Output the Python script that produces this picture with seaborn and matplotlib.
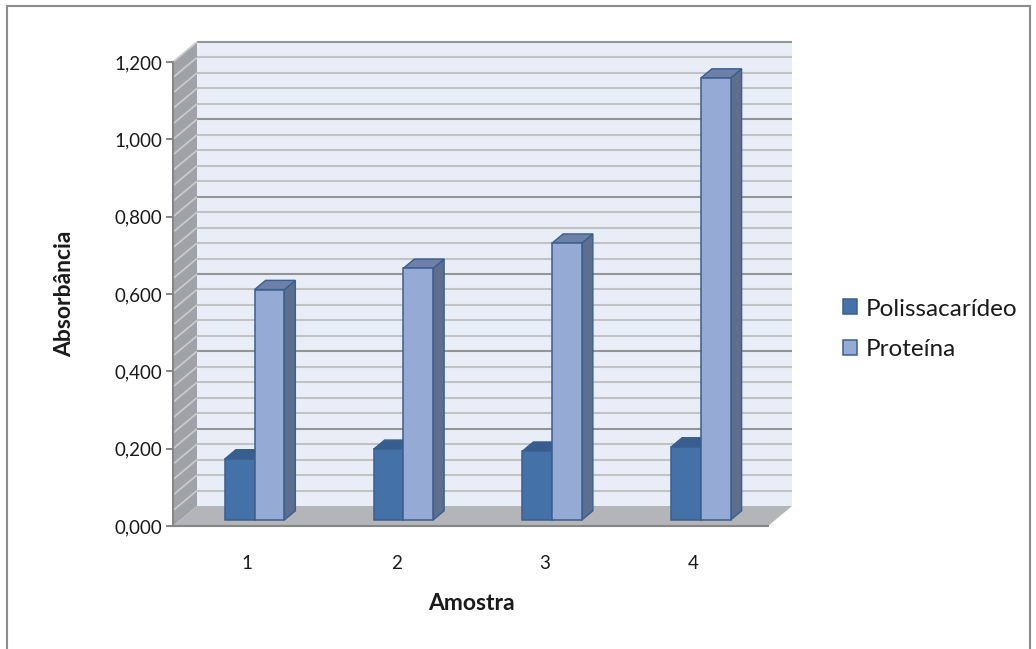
import numpy as np
import pandas as pd
import matplotlib
matplotlib.use("Agg")
import matplotlib.pyplot as plt
import matplotlib.patches as mpatches
from matplotlib.lines import Line2D
from matplotlib.ticker import FuncFormatter, MultipleLocator
import seaborn as sns

# ---- data -------------------------------------------------------------
amostras = ["1", "2", "3", "4"]
series = ["Polissacarídeo", "Proteína"]
polissacarideo = [0.158, 0.183, 0.178, 0.189]
proteina = [0.596, 0.651, 0.716, 1.143]

df = pd.DataFrame({
    "Amostra": amostras * 2,
    "Série": [series[0]] * len(amostras) + [series[1]] * len(amostras),
    "Absorbância": polissacarideo + proteina,
})

# ---- style ------------------------------------------------------------
sns.set_theme(style="white")
plt.rcParams["font.family"] = ["Lato", "DejaVu Sans"]
TEXT = "#1a1a1a"
AXIS_GRAY = "#868686"

W, H, DPI = 1036, 649, 100
fig = plt.figure(figsize=(W / DPI, H / DPI), dpi=DPI, facecolor="white")

# front plane of the 3-D box (pixels)
left, right, bottom, top = 173, 768, 526, 62
ax = fig.add_axes([left / W, 1 - bottom / H, (right - left) / W, (bottom - top) / H])
ax.set_facecolor("none")

front_colors = ["#4471A8", "#95AAD4"]
top_colors = ["#375E8E", "#6C80A8"]
side_colors = ["#2F5079", "#5E6E8E"]
edge = "#3A5F8E"

sns.barplot(data=df, x="Amostra", y="Absorbância", hue="Série",
            order=amostras, hue_order=series, palette=front_colors,
            width=0.4, saturation=1, edgecolor=edge, linewidth=1.1,
            legend=False, ax=ax)

XMIN, XMAX = -0.5, len(amostras) - 0.5
YMAX = 1.2
ax.set_xlim(XMIN, XMAX)
ax.set_ylim(0, YMAX)

# depth of the box in data units (24 px right, 20 px up)
p0 = ax.transData.transform((0, 0))
p1 = ax.transData.transform((1, 1))
DX = 24 / (p1[0] - p0[0])
DY = 20 / (p1[1] - p0[1])


def P(x, y, d):
    return (x + d * DX, y + d * DY)


def poly(pts, color, z, ec="none", lw=0):
    ax.add_patch(mpatches.Polygon(pts, closed=True, facecolor=color,
                                  edgecolor=ec, lw=lw, zorder=z,
                                  clip_on=False))


# walls and floor
poly([P(XMIN, 0, 1), P(XMAX, 0, 1), P(XMAX, YMAX, 1), P(XMIN, YMAX, 1)],
     "#E8EDF7", 0.5)
poly([P(XMIN, 0, 0), P(XMIN, 0, 1), P(XMIN, YMAX, 1), P(XMIN, YMAX, 0)],
     "#9FA2A6", 0.6)

# gridlines on back and side walls
for v in np.round(np.arange(0.04, YMAX + 1e-9, 0.04), 2):
    major = abs(v / 0.2 - round(v / 0.2)) < 1e-6
    c = "#959595" if major else "#C2C2C2"
    (xa, ya), (xb, yb) = P(XMIN, v, 1), P(XMAX, v, 1)
    ax.add_line(Line2D([xa, xb], [ya, yb], color=c, lw=1.5, zorder=0.8,
                       clip_on=False, solid_capstyle="butt"))
    (xa, ya), (xb, yb) = P(XMIN, v, 0), P(XMIN, v, 1)
    ax.add_line(Line2D([xa, xb], [ya, yb], color="#C8CACD", lw=1.3,
                       zorder=0.8, clip_on=False, solid_capstyle="butt"))

poly([P(XMIN, 0, 0), P(XMAX, 0, 0), P(XMAX, 0, 1), P(XMIN, 0, 1)],
     "#B3B5B8", 1.0)

# 3-D bars: front faces from seaborn, plus top and side faces
D_FRONT, D_BACK = 0.30, 0.76
for i, container in enumerate(ax.containers):
    zbase = 3 + 3 * i
    for bar in container:
        xa = bar.get_x()
        w = bar.get_width()
        h = bar.get_height()
        xb = xa + w
        fx, fy = P(xa, 0, D_FRONT)
        bar.set_x(fx)
        bar.set_y(fy)
        bar.set_zorder(zbase + 2)
        poly([P(xb, 0, D_FRONT), P(xb, 0, D_BACK), P(xb, h, D_BACK),
              P(xb, h, D_FRONT)], side_colors[i], zbase, ec=edge, lw=1.0)
        poly([P(xa, h, D_FRONT), P(xb, h, D_FRONT), P(xb, h, D_BACK),
              P(xa, h, D_BACK)], top_colors[i], zbase + 1, ec=edge, lw=1.0)

# ---- axes -------------------------------------------------------------
for s in ["top", "right"]:
    ax.spines[s].set_visible(False)
for s in ["left", "bottom"]:
    ax.spines[s].set_color(AXIS_GRAY)
    ax.spines[s].set_linewidth(1.5)
    ax.spines[s].set_zorder(20)

ax.yaxis.set_major_locator(MultipleLocator(0.2))
ax.yaxis.set_major_formatter(FuncFormatter(lambda v, _: f"{v:.3f}".replace(".", ",")))
ax.tick_params(axis="y", direction="out", length=5, width=1.4, color=AXIS_GRAY,
               pad=2.5, labelsize=13.5, labelcolor=TEXT, left=True)
ax.tick_params(axis="x", length=0, pad=21, labelsize=13.5, labelcolor=TEXT)

ax.set_xlabel("Amostra", fontsize=16.5, fontweight="bold", color=TEXT)
ax.set_ylabel("Absorbância", fontsize=16.5, fontweight="bold", color=TEXT)
ax.xaxis.set_label_coords((471 - left) / (right - left), (bottom - 604) / (bottom - top))
ax.yaxis.set_label_coords((65 - left) / (right - left), (bottom - 294) / (bottom - top))
ax.xaxis.label.set_va("center")
ax.yaxis.label.set_va("center")

# ---- legend -----------------------------------------------------------
handles = [mpatches.Patch(facecolor=c, edgecolor=edge, lw=1.1) for c in front_colors]
fig.legend(handles, series, loc="center left",
           bbox_to_anchor=(843 / W, 1 - 329.5 / H),
           frameon=False, fontsize=17.5, handlelength=0.57, handleheight=0.57,
           handletextpad=0.38, labelspacing=0.82, borderpad=0,
           borderaxespad=0, labelcolor=TEXT)

# chart frame
fig.add_artist(mpatches.Rectangle((7 / W, -0.01), (1030 - 7) / W, 1 - 6 / H + 0.01,
                                  transform=fig.transFigure, fill=False,
                                  edgecolor="#8C8C8C", lw=1.5))

fig.savefig("out.png", dpi=DPI)
